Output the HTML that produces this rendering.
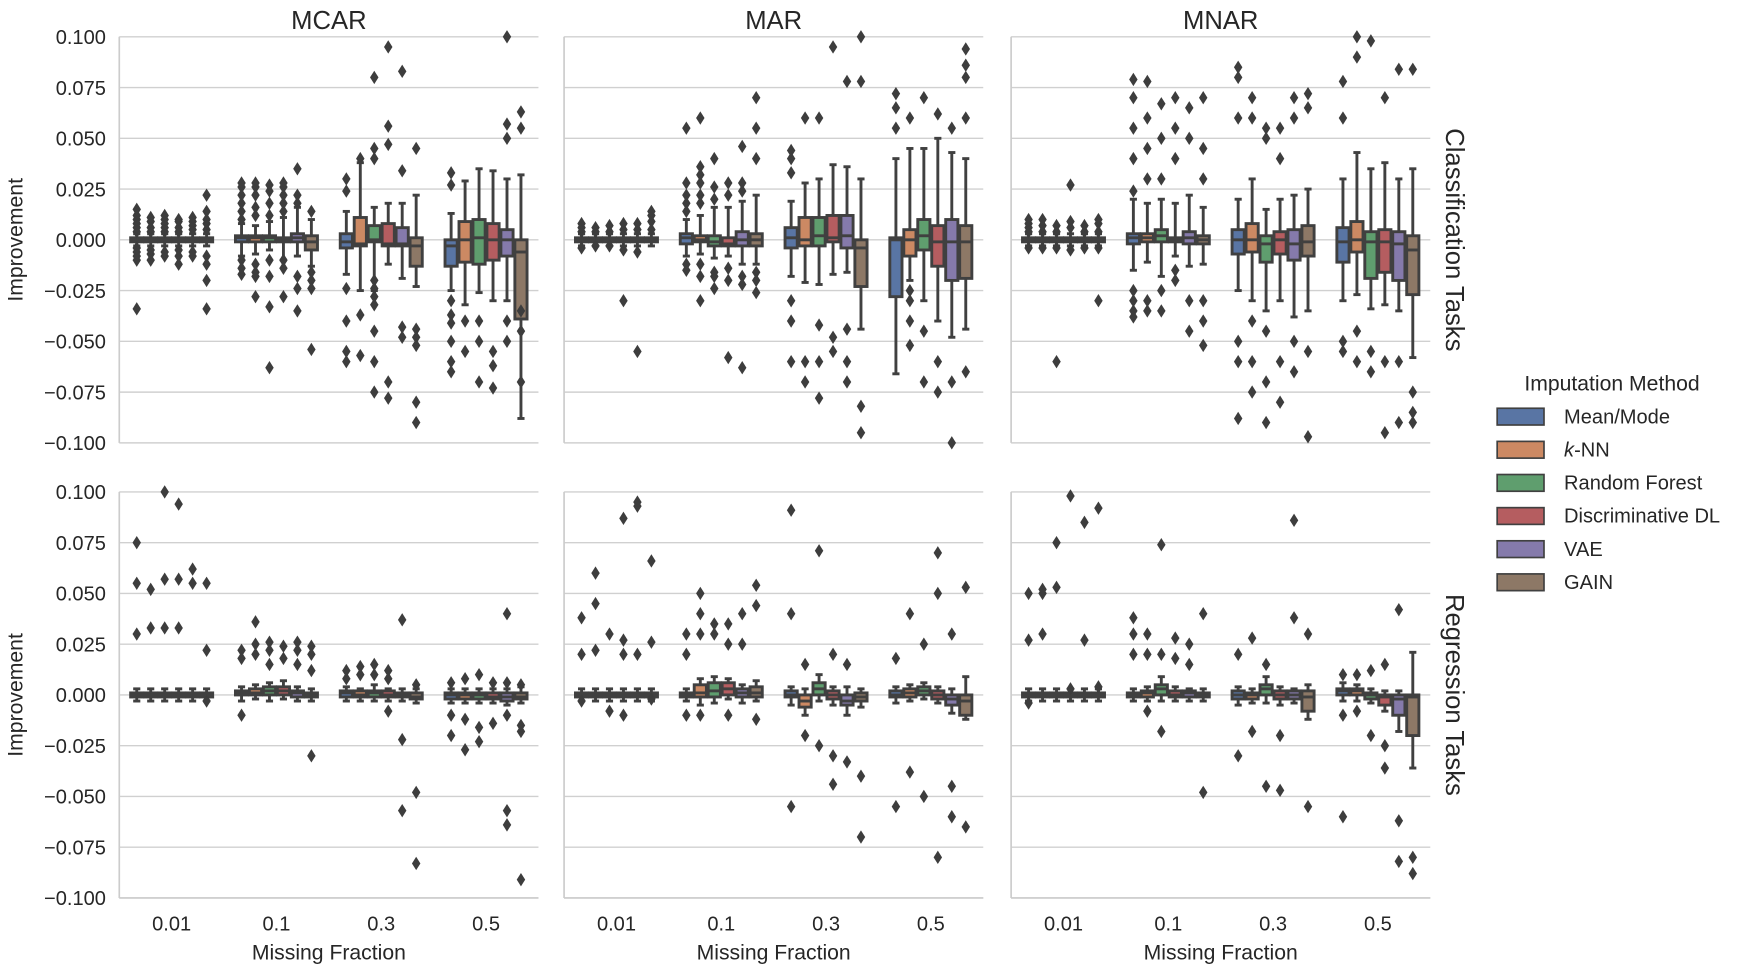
<!DOCTYPE html>
<html><head><meta charset="utf-8"><style>
html,body{margin:0;padding:0;background:#fff;}
svg{display:block;}
text{font-family:"Liberation Sans",Arial,sans-serif;fill:#262626;}
</style></head><body>
<svg id="s" width="1748" height="966" viewBox="0 0 1568 866" preserveAspectRatio="none" xmlns="http://www.w3.org/2000/svg"></svg>
<script>
const S=document.getElementById('s');let h='';
const cols=['#5975a4','#cc8963','#5f9e6e','#b55d60','#857aab','#8d7866'];
const PX=[107,506,907],PW=376,PY=[33,441],PH=364;
function Y(r,v){return PY[r]+182-v*1820;}
for(let r=0;r<2;r++){for(let p=0;p<3;p++){
 for(let k=-4;k<=4;k++){const y=Y(r,k*0.025);h+=`<line x1="${PX[p]}" x2="${PX[p]+PW}" y1="${y}" y2="${y}" stroke="#d0d0d0" stroke-width="1.3"/>`;}
 h+=`<line x1="${PX[p]}" x2="${PX[p]}" y1="${PY[r]}" y2="${PY[r]+PH}" stroke="#cccccc" stroke-width="1.5"/>`;
 if(r==1)h+=`<line x1="${PX[p]}" x2="${PX[p]+PW}" y1="${PY[r]+PH}" y2="${PY[r]+PH}" stroke="#cccccc" stroke-width="1.5"/>`;
}
 for(let k=-4;k<=4;k++){const v=k*0.025;let t=(v<0?'\u2212':'')+Math.abs(v).toFixed(3);h+=`<text x="95" y="${Y(r,v)+6.5}" font-size="18" text-anchor="end">${t}</text>`;}
 h+=`<text transform="translate(20,${PY[r]+182}) rotate(-90)" font-size="19" text-anchor="middle">Improvement</text>`;
}
['MCAR','MAR','MNAR'].forEach((t,p)=>{h+=`<text x="${PX[p]+PW/2}" y="26" font-size="23" text-anchor="middle">${t}</text>`;
 ['0.01','0.1','0.3','0.5'].forEach((c,i)=>{h+=`<text x="${PX[p]+47+94*i}" y="834" font-size="18" text-anchor="middle">${c}</text>`;});
 h+=`<text x="${PX[p]+PW/2}" y="860" font-size="19" text-anchor="middle">Missing Fraction</text>`;});
h+=`<text transform="translate(1297,215) rotate(90)" font-size="23" text-anchor="middle">Classification Tasks</text>`;
h+=`<text transform="translate(1297,623) rotate(90)" font-size="23" text-anchor="middle">Regression Tasks</text>`;
const T=(o)=>[-1,0,1,-3,3,o];
const D={
'0,0':[[T([-10,-8,-6,-4,4,6,8,10,12,15,-34])],[T([-10,-7,-5,4,6,9,11])],[T([-8,-6,4,6,8,10,12])],[T([-12,-8,-5,4,6,9,10])],[T([-8,-6,5,7,9,11])],[T([-8,-12,-20,-34,5,8,10,14,22])]],
'0,1':[[-1,1,2,-8,8,[10,14,18,22,26,28,-10,-14,-17]],[-1,1,2,-7,7,[12,16,22,26,28,-12,-16,-18,-28]],[-1,1,2,-5,9,[12,18,24,27,-10,-18,-33,-63]],[-1,0,1,-10,11,[14,18,22,26,28,-10,-14,-28]],[-1,1,3,-8,16,[18,22,35,-18,-24,-35]],[-5,-1,2,-13,10,[14,-16,-20,-24,-54]]],
'0,2':[[-4,-1,3,-17,14,[24,30,-24,-40,-55,-60]],[-3,-2,11,-25,38,[40,-37,-57]],[-1,0,7,-25,16,[40,45,80,-20,-24,-28,-32,-45,-60,-75]],[-3,-2,8,-12,18,[47,56,95,-70,-78]],[-3,-2,6,-19,18,[34,83,-43,-48]],[-13,-3,1,-23,22,[45,-44,-48,-52,-80,-90]]],
'0,3':[[-13,-3,0,-25,13,[27,33,-30,-37,-41,-50,-60,-65]],[-11,0,9,-32,29,[-40,-55]],[-12,1,10,-26,35,[-40,-50,-70]],[-10,0,8,-30,34,[-55,-62,-73]],[-8,0,5,-30,30,[50,57,100,-40,-50]],[-39,-6,0,-88,32,[55,63,-35,-45,-70]]],
'1,0':[[T([-4,4,6,8])],[T([-3,4,6])],[T([-3,4,7])],[T([-5,5,8,-30])],[T([-6,5,8,-55])],[T([5,9,12,14])]],
'1,1':[[-2,1,3,-8,10,[14,18,22,28,55,-12,-15]],[-1,0,2,-7,12,[18,22,28,32,36,60,-12,-18,-30]],[-3,-1,2,-9,16,[20,26,40,-16,-18,-24]],[-3,-2,1,-8,16,[22,28,-14,-20,-58]],[-3,0,4,-12,19,[24,28,46,-18,-22,-63]],[-3,0,3,-12,22,[40,55,70,-16,-20,-26]]],
'1,2':[[-4,1,6,-18,19,[33,40,44,-30,-40,-60]],[-3,0,11,-21,28,[60,-60,-70]],[-3,2,11,-22,30,[60,-42,-60,-78]],[-1,1,12,-17,37,[95,-48,-55]],[-4,2,12,-16,36,[78,-44,-60,-70]],[-23,-4,0,-44,30,[78,100,-82,-95]]],
'1,3':[[-28,0,1,-66,40,[72,65,55]],[-8,0,5,-20,45,[60,-25,-30,-40,-52]],[-5,2,10,-30,45,[70,-45,-70]],[-13,-1,7,-40,50,[62,-60,-75]],[-20,-1,10,-48,43,[55,-70,-100]],[-19,-1,7,-44,40,[94,86,80,60,-65]]],
'2,0':[[T([-4,4,6,8,10])],[T([-4,4,7,10])],[T([-4,4,7,-60])],[T([-5,6,9,27])],[T([-4,4,7])],[T([-4,4,8,10,-30])]],
'2,1':[[-2,1,3,-15,20,[24,40,55,70,79,-25,-30,-35,-38]],[-1,1,3,-11,18,[30,45,60,78,-30,-35]],[-1,2,5,-18,20,[30,50,67,-25,-35]],[-1,0,1,-8,18,[40,55,70,-15,-20]],[-2,1,4,-13,22,[50,65,-30,-45]],[-2,0,2,-12,16,[30,45,70,-30,-40,-52]]],
'2,2':[[-7,0,5,-25,20,[60,85,80,-50,-60,-88]],[-6,0,8,-30,30,[60,70,-40,-60,-75]],[-11,-2,2,-35,15,[55,50,-45,-70,-90]],[-7,0,4,-30,20,[40,55,-60,-80]],[-10,-2,5,-38,22,[60,70,-50,-65]],[-8,-1,7,-35,25,[65,72,-55,-97]]],
'2,3':[[-11,-1,6,-30,30,[60,78,-50,-55]],[-6,0,9,-27,43,[90,100,-45,-60]],[-19,-1,4,-34,35,[98,-55,-65]],[-16,-1,5,-32,38,[70,-60,-95]],[-20,-2,4,-35,30,[84,-60,-90]],[-27,-5,2,-58,35,[84,-75,-85,-90]]],
'0,0r':[[T([30,55,75])],[T([33,52])],[T([33,57,100])],[T([33,57,94])],[T([55,62])],[T([22,55,-3])]],
'0,1r':[[0,1,2,-3,4,[18,22,-10]],[0,1,3,-2,5,[20,25,36]],[0,2,4,-3,6,[15,22,26]],[0,2,4,-2,7,[18,24]],[-1,1,2,-3,4,[15,22,26]],[-1,0,1,-3,3,[12,20,24,-30]]],
'0,2r':[[-1,1,2,-3,4,[8,12]],[-1,0,2,-3,3,[10,14]],[-1,1,2,-3,5,[10,15]],[-1,0,2,-3,3,[8,12,-8]],[-1,0,1,-3,3,[37,-22,-57]],[-2,-1,1,-4,3,[5,-48,-83]]],
'0,3r':[[-2,0,1,-4,3,[6,-10,-20]],[-2,0,1,-4,3,[8,-12,-27]],[-2,0,1,-4,3,[10,-23,-16]],[-2,-1,1,-4,3,[6,-14]],[-3,-1,1,-5,3,[6,-10,40,-57,-64]],[-2,-1,1,-4,4,[5,-18,-15,-91]]],
'1,0r':[[T([20,38,-3])],[T([45,60,22])],[T([30,-8])],[T([87,20,27,-10])],[T([95,93,20])],[T([66,26,-2])]],
'1,1r':[[-1,0,1,-3,3,[20,30,-10]],[-1,1,5,-5,8,[30,40,50,-10]],[-1,2,6,-4,9,[30,35]],[0,3,6,-2,8,[25,35,-10]],[-1,1,3,-4,5,[25,40]],[-1,1,4,-3,7,[44,54,-12]]],
'1,2r':[[-1,0,2,-5,4,[40,91,-55]],[-6,-3,0,-10,3,[15,-20]],[0,3,6,-3,10,[71,-25]],[-2,0,2,-5,4,[20,-30,-44]],[-5,-3,0,-10,4,[15,-33]],[-3,-1,1,-6,3,[-40,-70]]],
'1,3r':[[-1,0,2,-4,4,[18,-55]],[-1,1,3,-3,5,[40,-38]],[0,2,4,-2,6,[25,-50]],[-2,0,2,-4,4,[70,50,-80]],[-5,-2,0,-9,3,[30,-45,-60]],[-10,-3,0,-12,9,[53,-65]]],
'2,0r':[[T([50,27,-4])],[T([50,52,30])],[T([53,75])],[T([98,3])],[T([85,27])],[T([92,4])]],
'2,1r':[[-1,0,1,-3,3,[20,38,30]],[-1,1,2,-3,4,[20,30,-8]],[0,3,5,-3,9,[74,20,-18]],[-1,0,2,-3,4,[28,18]],[-1,1,2,-3,3,[15,25]],[-1,0,1,-3,3,[40,-48]]],
'2,2r':[[-2,0,2,-5,4,[20,-30]],[-2,0,1,-4,3,[28,-18]],[0,3,5,-4,9,[15,-45]],[-2,0,2,-5,4,[-20,-47]],[-2,0,2,-4,3,[86,38]],[-8,-1,2,-12,5,[30,-55]]],
'2,3r':[[0,2,3,-3,6,[10,-10,-60]],[0,2,3,-3,5,[10,-8]],[-2,0,1,-4,3,[12,-20]],[-5,-1,0,-8,2,[15,-25,-36]],[-10,-2,0,-18,2,[42,-62,-82]],[-20,-1,0,-36,21,[-80,-88]]]
};
function draw(r,p,c,i,b){
 const cx=PX[p]+47+94*c, x=cx-37.6+12.53*i, w=12.53, xc=x+w/2;
 const k=v=>Y(r,v/1000);
 const [q1,md,q3,wl,wh,o]=b;
 const lc='#404040';
 h+=`<line x1="${xc}" x2="${xc}" y1="${k(wh)}" y2="${k(q3)}" stroke="${lc}" stroke-width="2.6"/>`;
 h+=`<line x1="${xc}" x2="${xc}" y1="${k(q1)}" y2="${k(wl)}" stroke="${lc}" stroke-width="2.6"/>`;
 h+=`<line x1="${xc-3.2}" x2="${xc+3.2}" y1="${k(wh)}" y2="${k(wh)}" stroke="${lc}" stroke-width="2.6"/>`;
 h+=`<line x1="${xc-3.2}" x2="${xc+3.2}" y1="${k(wl)}" y2="${k(wl)}" stroke="${lc}" stroke-width="2.6"/>`;
 const y3=k(q3),y1=k(q1);
 h+=`<rect x="${x+0.8}" y="${y3}" width="${w-1.6}" height="${Math.max(y1-y3,1)}" fill="${cols[i]}" stroke="${lc}" stroke-width="2.6"/>`;
 h+=`<line x1="${x+0.8}" x2="${x+w-0.8}" y1="${k(md)}" y2="${k(md)}" stroke="${lc}" stroke-width="2.6"/>`;
 o.forEach(v=>{if(Math.abs(v)>101)return;const y=k(v);h+=`<path d="M${xc} ${y-6}L${xc+3.8} ${y}L${xc} ${y+6}L${xc-3.8} ${y}Z" fill="#3d3d3d"/>`;});
}
for(let p=0;p<3;p++)for(let c=0;c<4;c++){
 let a=D[p+','+c],b=D[p+','+c+'r'];
 a.forEach((bx,i)=>draw(0,p,c,i,bx.length==1?bx[0]:bx));
 b.forEach((bx,i)=>draw(1,p,c,i,bx.length==1?bx[0]:bx));
}
h+=`<text x="1446" y="350" font-size="19" text-anchor="middle">Imputation Method</text>`;
['Mean/Mode','<tspan font-style="italic">k</tspan>-NN','Random Forest','Discriminative DL','VAE','GAIN'].forEach((t,i)=>{
 const y=373+29.7*i;
 h+=`<rect x="1343" y="${y-7}" width="42" height="15" fill="${cols[i]}" stroke="#404040" stroke-width="1.5"/>`;
 h+=`<text x="1403" y="${y+6.5}" font-size="18">${t}</text>`;});
S.innerHTML=h;
</script>
</body></html>
